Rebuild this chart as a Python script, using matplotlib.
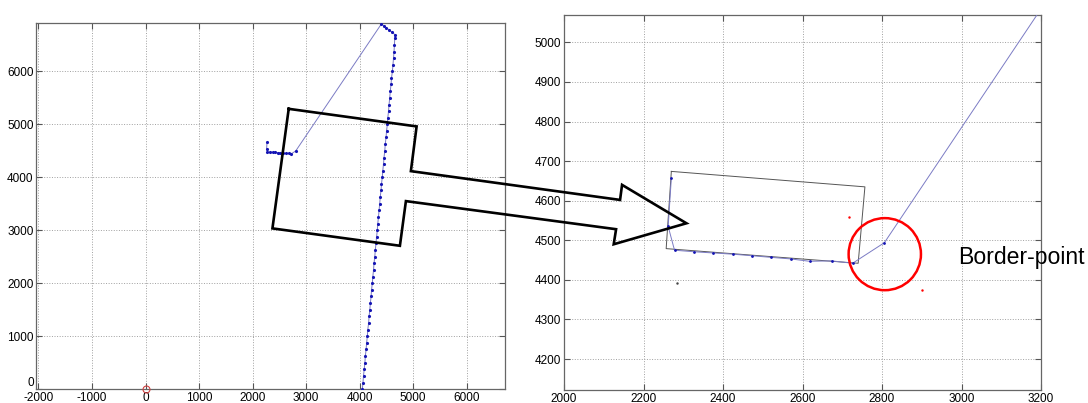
import numpy as np
import matplotlib
matplotlib.use("Agg")
import matplotlib.pyplot as plt
from matplotlib.lines import Line2D
from matplotlib.patches import Ellipse

plt.rcParams["font.family"] = ["Liberation Sans", "DejaVu Sans"]
plt.rcParams["axes.unicode_minus"] = False

# trajectory (mm): north-south walk, jump back, then along the wall
track_x = [4050, 4062, 4072, 4085, 4098, 4106, 4121, 4130, 4144, 4152, 4168, 4176,
           4190, 4200, 4214, 4222, 4237, 4246, 4260, 4268, 4283, 4292, 4305, 4316,
           4330, 4338, 4352, 4362, 4375, 4384, 4399, 4408, 4423, 4432, 4446, 4455,
           4470, 4478, 4493, 4502, 4518, 4526, 4540, 4549, 4562, 4572, 4586, 4595,
           4612, 4622, 4633, 4642, 4650, 4655, 4658,
           4600, 4550, 4500, 4450, 4405,
           2806, 2726, 2674, 2618, 2570, 2520, 2473, 2424, 2376, 2328, 2278, 2262, 2270]
track_y = [0, 120, 250, 370, 500, 620, 750, 870, 1000, 1120, 1250, 1370,
           1500, 1620, 1750, 1870, 2000, 2120, 2250, 2370, 2500, 2620, 2750, 2870,
           3000, 3120, 3250, 3370, 3500, 3620, 3750, 3870, 4000, 4120, 4250, 4370,
           4500, 4620, 4750, 4870, 5000, 5120, 5250, 5370, 5500, 5620, 5750, 5870,
           6000, 6120, 6250, 6370, 6500, 6620, 6690,
           6740, 6780, 6820, 6860, 6890,
           4494, 4442, 4448, 4447, 4453, 4457, 4461, 4465, 4468, 4471, 4475, 4535, 4657]

# room outline (thin gray box, only visible in the zoomed panel)
room_x = [2270, 2757, 2740, 2257, 2270]
room_y = [4674, 4635, 4442, 4479, 4674]

# stray single points
stray_gray = (2285, 4392)
stray_red_x = [2718, 2901]
stray_red_y = [4558, 4375]

origin = (0, 0)
border_point = (2807, 4465)
border_radius = 91

# callout shape: box part in left-panel data units, arrow head in right-panel data units
callout_box_x = [2675, 5064, 4957]
callout_box_y = [5289, 4957, 4113]
callout_head_x = [2141, 2146, 2308, 2125, 2131]
callout_head_y = [4602, 4640, 4543, 4490, 4528]
callout_tail_x = [4864, 4752, 2371, 2675]
callout_tail_y = [3547, 2704, 3032, 5289]

fig = plt.figure(figsize=(10.88, 4.03), dpi=100)
ax1 = fig.add_axes([0.0335, 0.0347, 0.4307, 0.907])
ax2 = fig.add_axes([0.5184, 0.0323, 0.4384, 0.9305])


def style(ax):
    ax.grid(True, linestyle=":", color="#a0a0a0", linewidth=0.7)
    ax.set_axisbelow(True)
    ax.tick_params(direction="in", top=True, right=True, labelsize=8.5,
                   length=4, width=0.8, color="#555555", pad=2)
    for sp in ax.spines.values():
        sp.set_color("#666666")
        sp.set_linewidth(0.9)


style(ax1)
style(ax2)

ax1.set_xlim(-2037, 6716)
ax1.set_ylim(0, 6900)
ax1.set_xticks(range(-2000, 7000, 1000))
ax1.set_yticks(range(0, 7000, 1000))
# keep the "0" label clear of the "-2000" label below it
ax1.get_yticklabels()[0].set_verticalalignment("bottom")

ax2.set_xlim(2000, 3200)
ax2.set_ylim(4122, 5069)
ax2.set_xticks(range(2000, 3201, 200))
ax2.set_yticks(range(4200, 5001, 100))

ax2.plot(room_x, room_y, color="#555555", lw=0.7, zorder=2)
for ax, ms in ((ax1, 2.5), (ax2, 2.0)):
    ax.plot(track_x, track_y, "-", color="#7b7bc4", lw=0.7, zorder=3)
    ax.plot(track_x, track_y, ".", color="#1414b4", ms=ms, zorder=4)

ax1.plot(*origin, "o", mfc="none", mec="#d04040", ms=5, mew=0.8, clip_on=False, zorder=5)

ax2.plot(*stray_gray, ".", color="#444444", ms=1.5)
ax2.plot(stray_red_x, stray_red_y, ".", color="red", ms=1.5, lw=0)
ax2.add_patch(Ellipse(border_point, 2 * border_radius, 2 * border_radius,
                      fill=False, edgecolor="red", lw=1.8, zorder=6))
ax2.text(2991, 4440, "Border-point", fontsize=16.6, ha="left", va="baseline",
         clip_on=False, zorder=10)

# callout drawn across both panels in figure coordinates
pts = np.vstack([
    ax1.transData.transform(np.column_stack([callout_box_x, callout_box_y])),
    ax2.transData.transform(np.column_stack([callout_head_x, callout_head_y])),
    ax1.transData.transform(np.column_stack([callout_tail_x, callout_tail_y])),
])
pts = fig.transFigure.inverted().transform(pts)
fig.add_artist(Line2D(pts[:, 0], pts[:, 1], color="black", lw=1.9,
                      solid_joinstyle="miter", transform=fig.transFigure, zorder=20))

fig.savefig("out.png", dpi=100)
